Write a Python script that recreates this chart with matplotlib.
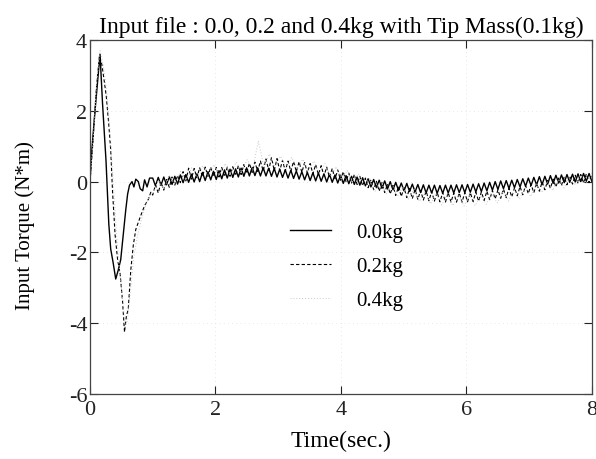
import numpy as np
import matplotlib
matplotlib.use("Agg")
import matplotlib.pyplot as plt

plt.rcParams["font.family"] = ["Liberation Serif", "DejaVu Serif"]
plt.rcParams["axes.unicode_minus"] = False

# start-up transient (time, torque)
t_start_00 = [0.00, 0.03, 0.08, 0.16, 0.20, 0.255, 0.30, 0.33, 0.37, 0.41, 0.45,
              0.49, 0.53, 0.57, 0.60, 0.63, 0.67, 0.70, 0.73, 0.77, 0.80, 0.84,
              0.87, 0.91, 0.95]
y_start_00 = [0.0, 0.9, 2.0, 3.6, 2.2, 0.6, -1.2, -1.9, -2.3, -2.75, -2.5,
              -2.2, -1.5, -0.8, -0.35, -0.1, 0.0, -0.15, 0.07, 0.0, -0.2, -0.26,
              0.05, -0.15, 0.1]

t_start_02 = [0.00, 0.05, 0.10, 0.15, 0.19, 0.23, 0.26, 0.30, 0.33, 0.36, 0.40,
              0.44, 0.48, 0.52, 0.55, 0.58, 0.61, 0.65, 0.69, 0.73, 0.80, 0.87,
              0.93, 0.97]
y_start_02 = [0.0, 1.2, 2.6, 3.55, 3.3, 2.8, 2.4, 1.6, 0.9, -0.3, -1.5,
              -2.2, -2.6, -3.4, -4.25, -3.8, -3.6, -2.5, -1.8, -1.35, -1.0, -0.68,
              -0.5, -0.3]

t_start_04 = [0.00, 0.06, 0.11, 0.16, 0.21, 0.27, 0.32, 0.37, 0.42, 0.47, 0.52,
              0.56, 0.60, 0.65, 0.70, 0.76, 0.83, 0.90, 0.96]
y_start_04 = [0.0, 1.4, 2.9, 3.7, 3.3, 2.5, 1.4, 0.0, -1.4, -2.5, -3.3,
              -4.1, -3.9, -3.0, -2.1, -1.5, -1.0, -0.6, -0.35]

# residual vibration from 1 s to 8 s, peaks and troughs
osc_00 = [0.10, -0.12, 0.12, -0.10, 0.13, -0.09, 0.14, -0.08, 0.15, -0.07,
          0.19, -0.03, 0.20, -0.02, 0.21, -0.01, 0.22, 0.00, 0.26, 0.03,
          0.28, 0.05, 0.29, 0.06, 0.31, 0.08, 0.33, 0.10, 0.35, 0.12,
          0.36, 0.13, 0.38, 0.15, 0.39, 0.16, 0.40, 0.17, 0.39, 0.16,
          0.39, 0.16, 0.38, 0.15, 0.37, 0.13, 0.35, 0.12, 0.33, 0.10,
          0.32, 0.09, 0.30, 0.07, 0.28, 0.05, 0.26, 0.03, 0.25, 0.02,
          0.24, 0.01, 0.22, -0.01, 0.21, -0.02, 0.19, -0.04, 0.18, -0.05,
          0.17, -0.06, 0.15, -0.08, 0.13, -0.10, 0.11, -0.12, 0.08, -0.15,
          0.06, -0.17, 0.04, -0.19, 0.02, -0.21, 0.00, -0.23, -0.02, -0.25,
          -0.04, -0.26, -0.05, -0.28, -0.07, -0.29, -0.08, -0.31, -0.09, -0.32,
          -0.10, -0.32, -0.10, -0.33, -0.11, -0.33, -0.10, -0.32, -0.10, -0.32,
          -0.09, -0.31, -0.09, -0.31, -0.08, -0.30, -0.07, -0.29, -0.06, -0.28,
          -0.04, -0.26, -0.02, -0.24, 0.00, -0.22, 0.02, -0.20, 0.03, -0.19,
          0.04, -0.17, 0.06, -0.15, 0.08, -0.13, 0.10, -0.11, 0.12, -0.09,
          0.14, -0.08, 0.15, -0.07, 0.17, -0.05, 0.18, -0.04, 0.19, -0.03,
          0.20, -0.02, 0.21, -0.01, 0.22, 0.00, 0.23, 0.01, 0.23, 0.01]

osc_02 = [-0.38, -0.09, -0.32, -0.02, -0.24, 0.06, -0.16, 0.13, -0.10, 0.18,
          -0.03, 0.28, 0.02, 0.38, 0.07, 0.37, 0.11, 0.39, 0.14, 0.41,
          0.15, 0.41, 0.14, 0.40, 0.13, 0.40, 0.14, 0.41, 0.15, 0.42,
          0.17, 0.45, 0.20, 0.48, 0.23, 0.52, 0.26, 0.55, 0.29, 0.58,
          0.30, 0.64, 0.32, 0.68, 0.31, 0.65, 0.31, 0.60, 0.30, 0.58,
          0.29, 0.57, 0.28, 0.56, 0.26, 0.54, 0.24, 0.51, 0.22, 0.48,
          0.20, 0.45, 0.16, 0.41, 0.12, 0.37, 0.08, 0.33, 0.04, 0.28,
          0.00, 0.24, -0.04, 0.20, -0.08, 0.15, -0.12, 0.10, -0.17, 0.05,
          -0.23, 0.01, -0.27, -0.03, -0.31, -0.07, -0.35, -0.11, -0.39, -0.14,
          -0.42, -0.17, -0.45, -0.19, -0.48, -0.22, -0.50, -0.25, -0.52, -0.27,
          -0.54, -0.28, -0.55, -0.30, -0.57, -0.31, -0.58, -0.31, -0.58, -0.32,
          -0.58, -0.32, -0.58, -0.31, -0.57, -0.31, -0.56, -0.30, -0.55, -0.29,
          -0.53, -0.27, -0.51, -0.25, -0.49, -0.23, -0.47, -0.21, -0.45, -0.19,
          -0.43, -0.17, -0.40, -0.14, -0.37, -0.11, -0.34, -0.08, -0.31, -0.05,
          -0.27, -0.01, -0.23, 0.03, -0.19, 0.07, -0.15, 0.10, -0.11, 0.14,
          -0.09, 0.16, -0.07, 0.18, -0.05, 0.20, -0.04, 0.22, -0.03, 0.23]

osc_04 = [-0.35, 0.03, -0.20, 0.17, -0.07, 0.29, 0.05, 0.39, 0.12, 0.45,
          0.17, 0.48, 0.20, 0.51, 0.23, 0.55, 0.28, 0.62, 0.35, 1.15,
          0.42, 0.78, 0.42, 0.72, 0.38, 0.68, 0.35, 0.63, 0.31, 0.58,
          0.24, 0.51, 0.15, 0.42, 0.07, 0.32, -0.02, 0.22, -0.10, 0.08,
          -0.28, 0.02, -0.35, -0.06, -0.42, -0.14, -0.49, -0.22, -0.56, -0.30,
          -0.63, -0.33, -0.66, -0.36, -0.68, -0.38, -0.69, -0.38, -0.68, -0.38,
          -0.64, -0.33, -0.60, -0.29, -0.55, -0.24, -0.49, -0.18, -0.42, -0.07,
          -0.31, 0.00, -0.25, 0.06, -0.18, 0.12, -0.10, 0.18, -0.05, 0.25]

labels = ["0.0kg", "0.2kg", "0.4kg"]


def build(t_start, y_start, osc):
    t_osc = np.linspace(1.0, 8.0, len(osc))
    return np.concatenate([t_start, t_osc]), np.concatenate([y_start, osc])


fig = plt.figure(figsize=(5.96, 4.60), dpi=100)
ax = fig.add_axes([0.151, 0.141, 0.842, 0.770])

t0, y0 = build(t_start_00, y_start_00, osc_00)
t2, y2 = build(t_start_02, y_start_02, osc_02)
t4, y4 = build(t_start_04, y_start_04, osc_04)

ax.plot(t0, y0, color="black", lw=1.0, label=labels[0])
ax.plot(t2, y2, color="black", lw=0.8, linestyle=(0, (3, 2)), label=labels[1])
ax.plot(t4, y4, color="#c8c8c8", lw=0.7, linestyle=(0, (1, 2)), label=labels[2])

ax.set_xlim(0, 8)
ax.set_ylim(-6, 4)
ax.set_xticks([0, 2, 4, 6, 8])
ax.set_yticks([-6, -4, -2, 0, 2, 4])
ax.tick_params(direction="in", top=True, right=True, length=6, width=0.8,
               labelsize=16, pad=2, colors="#222222")
ax.tick_params(axis="x", pad=4)
ax.grid(True, color="#e0e0e0", linestyle=(0, (1, 4)), lw=0.6)
for s in ax.spines.values():
    s.set_color("#444444")
    s.set_linewidth(0.9)

ax.set_title("Input file : 0.0, 0.2 and 0.4kg with Tip Mass(0.1kg)", fontsize=17, pad=6)
ax.set_xlabel("Time(sec.)", fontsize=17, labelpad=8)
ax.set_ylabel("Input Torque (N*m)", fontsize=15)
ax.yaxis.set_label_coords(-0.109, 0.48)

ax.legend(loc="upper left", bbox_to_anchor=(0.362, 0.538), frameon=False,
          fontsize=15, handlelength=1.95, handletextpad=1.2, labelspacing=0.7)

fig.savefig("out.png", dpi=100)
